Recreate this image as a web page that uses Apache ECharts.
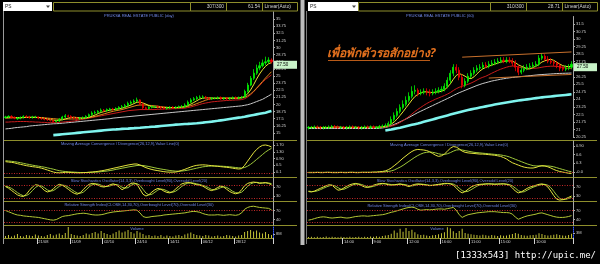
<!DOCTYPE html>
<html><head><meta charset="utf-8">
<script src="https://cdn.jsdelivr.net/npm/echarts@6/dist/echarts.min.js"></script>
<style>html,body{margin:0;padding:0;background:#000;}#c{width:600px;height:264px;}</style>
</head><body><div id="c"></div>
<script>
// ---------------- LEFT PANEL (daily) ----------------
const leftTickIdx = [11, 22, 33, 44, 55, 66, 77];
const leftTickLabels = ['21/08', '11/09', '02/10', '24/10', '14/11', '06/12', '28/12'];
const leftClose = [
 17.8,17.9,17.7,17.6,17.6,17.7,17.9,17.8,17.7,17.8,
 17.8,17.6,17.5,17.4,17.3,17.2,17.0,17.1,17.4,17.8,
 18.0,17.9,17.7,17.6,17.5,17.6,17.7,17.9,18.2,18.5,
 18.6,18.8,19.0,18.9,19.1,19.2,19.1,19.3,19.5,19.6,
 19.8,20.2,20.4,20.6,20.8,20.1,19.4,19.3,19.5,19.6,
 19.6,19.5,19.4,19.3,19.4,19.5,19.4,19.5,19.6,19.6,
 19.9,20.4,20.8,21.0,21.2,21.3,21.3,21.1,21.0,21.1,
 21.1,21.2,21.0,21.1,21.0,21.1,21.2,21.1,21.2,21.3,
 22.3,23.4,24.6,25.5,26.4,26.8,27.3,27.5,27.8,27.5];
const leftOpen = [
 17.7,17.8,17.9,17.7,17.5,17.6,17.7,17.9,17.8,17.7,
 17.8,17.8,17.6,17.5,17.4,17.3,17.2,17.0,17.1,17.4,
 17.8,18.0,17.9,17.7,17.6,17.5,17.6,17.7,17.9,18.2,
 18.5,18.6,18.8,19.0,18.9,19.1,19.2,19.1,19.3,19.5,
 19.6,19.8,20.2,20.4,20.6,20.8,20.1,19.4,19.3,19.5,
 19.6,19.6,19.5,19.4,19.3,19.4,19.5,19.4,19.5,19.6,
 19.6,19.9,20.4,20.8,21.0,21.2,21.3,21.3,21.1,21.0,
 21.1,21.1,21.2,21.0,21.1,21.0,21.1,21.2,21.1,21.2,
 21.3,22.3,23.4,24.6,25.5,26.4,26.8,27.3,27.5,27.8];
const leftHigh = [
 18.0,18.1,18.1,17.9,17.8,17.9,18.1,18.1,18.0,18.0,
 18.0,17.9,17.8,17.7,17.6,17.5,17.4,17.3,17.6,18.0,
 18.3,18.2,18.1,17.9,17.8,17.8,17.9,18.1,18.4,18.8,
 18.9,19.0,19.3,19.2,19.3,19.4,19.4,19.5,19.7,19.9,
 20.1,20.5,20.7,20.9,21.2,20.9,20.3,19.6,19.7,19.8,
 19.8,19.8,19.7,19.6,19.6,19.7,19.7,19.7,19.8,19.9,
 20.2,20.7,21.1,21.3,21.5,21.6,21.6,21.5,21.3,21.3,
 21.3,21.4,21.4,21.3,21.3,21.3,21.4,21.4,21.4,21.5,
 22.6,23.8,25.0,26.2,27.0,27.5,27.9,28.4,28.3,28.1];
const leftLow = [
 17.5,17.6,17.5,17.4,17.3,17.4,17.5,17.6,17.5,17.5,
 17.6,17.4,17.3,17.2,17.1,17.0,16.8,16.8,16.9,17.2,
 17.6,17.7,17.5,17.4,17.3,17.3,17.4,17.5,17.7,18.0,
 18.3,18.4,18.6,18.7,18.7,18.9,18.9,18.9,19.1,19.3,
 19.4,19.6,20.0,20.2,20.4,19.9,19.2,19.1,19.1,19.3,
 19.4,19.3,19.2,19.1,19.1,19.2,19.2,19.2,19.3,19.4,
 19.4,19.7,20.2,20.6,20.8,21.0,21.0,20.9,20.8,20.8,
 20.9,20.9,20.8,20.8,20.8,20.8,20.9,20.9,20.9,21.0,
 21.2,22.1,23.2,24.3,25.2,26.0,26.5,26.9,27.2,27.2];
const leftMaYellow = [
 17.7,17.75,17.75,17.7,17.7,17.65,17.7,17.75,17.75,17.75,
 17.75,17.7,17.65,17.55,17.45,17.35,17.25,17.2,17.2,17.3,
 17.45,17.6,17.7,17.75,17.7,17.65,17.6,17.65,17.75,17.95,
 18.15,18.4,18.6,18.75,18.9,19.0,19.1,19.15,19.25,19.35,
 19.5,19.7,19.9,20.15,20.4,20.4,20.25,20.05,19.8,19.6,
 19.5,19.5,19.5,19.45,19.45,19.45,19.45,19.45,19.5,19.55,
 19.6,19.8,20.05,20.35,20.65,20.95,21.1,21.15,21.15,21.15,
 21.1,21.1,21.1,21.1,21.1,21.1,21.1,21.1,21.15,21.2,
 21.4,21.85,22.55,23.45,24.45,25.35,26.1,26.7,27.15,27.35];
const leftMaOrange = [
 17.6,17.6,17.65,17.65,17.65,17.65,17.7,17.7,17.7,17.7,
 17.7,17.7,17.7,17.65,17.6,17.55,17.5,17.45,17.4,17.4,
 17.4,17.45,17.45,17.45,17.45,17.5,17.55,17.6,17.7,17.8,
 17.9,18.05,18.2,18.35,18.5,18.65,18.8,18.9,19.0,19.1,
 19.25,19.4,19.55,19.7,19.85,19.9,19.9,19.9,19.85,19.8,
 19.75,19.7,19.6,19.55,19.5,19.45,19.45,19.45,19.45,19.5,
 19.55,19.65,19.8,19.95,20.15,20.35,20.55,20.75,20.9,21.0,
 21.05,21.1,21.1,21.1,21.1,21.1,21.1,21.1,21.12,21.15,
 21.25,21.5,21.85,22.3,22.85,23.45,24.05,24.65,25.2,25.75];
const leftMaRed = [
 16.9,16.9,16.95,16.95,17.0,17.0,17.0,17.0,16.95,16.95,
 16.9,16.9,16.85,16.85,16.8,16.8,16.8,16.8,16.85,16.9,
 16.95,17.0,17.05,17.1,17.2,17.3,17.4,17.5,17.6,17.7,
 17.8,17.9,18.0,18.1,18.2,18.3,18.4,18.5,18.6,18.7,
 18.8,18.9,18.95,19.0,19.05,19.1,19.1,19.1,19.1,19.1,
 19.1,19.15,19.15,19.2,19.2,19.2,19.25,19.25,19.3,19.3,
 19.35,19.45,19.55,19.7,19.85,20.0,20.15,20.25,20.35,20.45,
 20.5,20.55,20.6,20.65,20.7,20.72,20.75,20.78,20.8,20.85,
 21.0,21.3,21.7,22.2,22.8,23.3,23.9,24.4,24.8,25.2];
const leftMaWhite = [
 15.7,15.75,15.8,15.9,15.95,16.0,16.05,16.1,16.2,16.25,
 16.3,16.35,16.4,16.45,16.5,16.55,16.6,16.62,16.65,16.7,
 16.75,16.8,16.85,16.9,16.95,17.0,17.05,17.1,17.15,17.2,
 17.25,17.3,17.35,17.4,17.45,17.5,17.6,17.65,17.7,17.75,
 17.8,17.85,17.9,17.95,18.0,18.05,18.1,18.15,18.2,18.25,
 18.3,18.35,18.4,18.45,18.5,18.55,18.6,18.65,18.7,18.75,
 18.8,18.85,18.9,18.95,19.0,19.05,19.1,19.15,19.2,19.25,
 19.3,19.35,19.4,19.45,19.5,19.55,19.6,19.65,19.7,19.75,
 19.85,19.95,20.1,20.3,20.5,20.7,20.9,21.2,21.5,21.8];
const leftMaCyan = [
 null,null,null,null,null,null,null,null,null,null,
 null,null,null,null,null,null,14.6,14.65,14.7,14.75,
 14.8,14.85,14.9,14.95,15.0,15.05,15.1,15.15,15.2,15.25,
 15.3,15.35,15.4,15.45,15.5,15.55,15.6,15.62,15.65,15.7,
 15.72,15.75,15.8,15.83,15.87,15.9,15.95,16.0,16.03,16.07,
 16.1,16.15,16.2,16.25,16.3,16.35,16.4,16.45,16.48,16.52,
 16.55,16.58,16.62,16.66,16.7,16.75,16.8,16.86,16.92,16.98,
 17.05,17.12,17.2,17.28,17.36,17.44,17.52,17.6,17.68,17.76,
 17.85,17.95,18.05,18.15,18.25,18.35,18.45,18.55,18.7,18.85];
const leftMacd = [
 0.72,0.7,0.68,0.65,0.6,0.56,0.52,0.48,0.45,0.42,
 0.4,0.37,0.33,0.28,0.22,0.16,0.1,0.06,0.05,0.06,
 0.08,0.08,0.07,0.06,0.05,0.05,0.06,0.07,0.09,0.1,
 0.12,0.14,0.17,0.2,0.24,0.28,0.32,0.36,0.4,0.44,
 0.48,0.52,0.55,0.58,0.58,0.52,0.44,0.36,0.3,0.25,
 0.21,0.18,0.15,0.12,0.1,0.09,0.09,0.1,0.14,0.2,
 0.26,0.33,0.4,0.46,0.5,0.52,0.53,0.52,0.5,0.48,
 0.46,0.44,0.42,0.4,0.38,0.36,0.33,0.3,0.28,0.3,
 0.5,0.75,1.0,1.25,1.45,1.6,1.7,1.72,1.68,1.6];
const leftSignal = [
 0.78,0.76,0.74,0.72,0.69,0.66,0.62,0.58,0.55,0.51,
 0.48,0.45,0.42,0.39,0.35,0.31,0.27,0.22,0.18,0.15,
 0.13,0.11,0.1,0.09,0.08,0.07,0.07,0.07,0.07,0.08,
 0.09,0.1,0.12,0.14,0.16,0.19,0.22,0.26,0.29,0.33,
 0.36,0.4,0.43,0.46,0.49,0.5,0.49,0.46,0.43,0.39,
 0.35,0.31,0.28,0.25,0.22,0.19,0.17,0.15,0.15,0.16,
 0.18,0.21,0.25,0.29,0.33,0.37,0.41,0.43,0.45,0.46,
 0.46,0.46,0.45,0.44,0.43,0.41,0.39,0.37,0.35,0.34,
 0.37,0.45,0.56,0.7,0.85,1.0,1.15,1.3,1.42,1.52];
const leftMacdTicks = [0.1, 0.5, 0.9, 1.3, 1.7];
const leftMacdTickLabels = ['0.1', '0.5', '0.90', '1.30', '1.70'];
const leftStochK = [
 72,65,55,45,35,30,28,38,55,70,
 80,78,68,55,48,52,62,75,82,78,
 70,60,50,42,38,45,58,72,82,86,
 84,78,72,70,74,80,84,80,70,58,
 66,78,86,88,82,60,38,30,36,48,
 58,64,60,52,46,44,50,62,74,84,
 88,90,88,84,80,78,74,66,58,54,
 60,68,74,70,60,50,44,40,44,58,
 76,86,90,92,90,86,88,90,86,80];
const leftStochD = [
 74,70,64,55,45,37,31,32,40,54,
 68,76,75,67,57,52,54,63,73,78,
 77,69,60,51,43,42,47,58,71,80,
 84,83,78,73,72,75,79,81,78,69,
 65,67,77,84,85,77,60,43,35,38,
 47,57,61,59,53,47,47,52,62,73,
 82,87,89,87,84,81,77,73,66,59,
 57,61,67,71,68,60,51,45,43,47,
 59,73,84,89,91,89,88,88,88,85];
const leftRsi = [
 70,66,62,58,55,54,52,51,50,49,
 48,47,45,43,41,39,38,40,45,50,
 52,53,55,57,59,60,61,60,58,56,
 55,55,56,58,61,63,65,66,67,68,
 69,70,71,72,71,62,50,47,48,50,
 51,52,53,55,56,57,58,59,60,61,
 62,64,66,67,66,64,60,57,55,55,
 55,56,55,54,55,56,55,54,56,62,
 74,80,83,84,82,80,79,78,77,72];
const leftVolume = [
 4,6,3,5,8,4,3,6,5,4,
 7,5,4,3,6,8,5,7,9,6,
 10,22,8,6,5,4,6,9,7,10,
 12,9,14,10,8,6,9,12,15,11,
 13,16,12,9,14,11,8,5,6,4,
 5,4,6,3,5,4,3,5,6,4,
 7,9,11,8,6,5,4,6,5,3,
 4,5,3,4,6,5,4,3,5,6,
 12,14,16,13,15,11,9,12,8,6];
const leftVolTicks = [8];
const leftVolTickLabels = ['8M'];
const leftLast = 27.5;

// ---------------- RIGHT PANEL (60 min) ----------------
const rightTickIdx = [12, 22, 34, 45, 55, 65, 77];
const rightTickLabels = ['14:00', '9:00', '12:00', '16:00', '11:00', '15:00', '10:00'];
const rightClose = [
 21.2,21.2,21.25,21.2,21.15,21.2,21.2,21.25,21.3,21.25,
 21.2,21.2,21.15,21.2,21.25,21.2,21.2,21.15,21.2,21.25,
 21.2,21.25,21.2,21.2,21.3,21.35,21.4,21.6,22.0,22.4,
 22.8,23.2,23.5,23.9,24.3,24.8,24.9,24.6,24.7,24.8,
 24.7,24.6,24.7,24.8,24.9,25.0,25.3,25.9,26.6,27.2,
 26.9,26.2,25.4,25.8,26.3,26.6,26.9,27.1,27.2,27.4,
 27.3,27.5,27.6,27.7,27.8,27.9,27.8,27.9,27.8,27.6,
 27.2,26.7,26.9,27.1,27.2,27.3,27.4,27.5,28.1,28.3,
 28.0,27.8,27.7,27.6,27.4,27.1,27.0,27.1,27.2,27.5];
const rightOpen = [
 21.15,21.2,21.2,21.25,21.2,21.15,21.2,21.2,21.25,21.3,
 21.25,21.2,21.2,21.15,21.2,21.25,21.2,21.2,21.15,21.2,
 21.25,21.2,21.25,21.2,21.2,21.3,21.35,21.4,21.6,22.0,
 22.4,22.8,23.2,23.5,23.9,24.3,24.8,24.9,24.6,24.7,
 24.8,24.7,24.6,24.7,24.8,24.9,25.0,25.3,25.9,26.6,
 27.2,26.9,26.2,25.4,25.8,26.3,26.6,26.9,27.1,27.2,
 27.4,27.3,27.5,27.6,27.7,27.8,27.9,27.8,27.9,27.8,
 27.6,27.2,26.7,26.9,27.1,27.2,27.3,27.4,27.5,28.1,
 28.3,28.0,27.8,27.7,27.6,27.4,27.1,27.0,27.1,27.2];
const rightHigh = [
 21.35,21.35,21.4,21.4,21.35,21.35,21.35,21.4,21.45,21.45,
 21.4,21.35,21.35,21.35,21.4,21.4,21.35,21.35,21.35,21.4,
 21.4,21.4,21.4,21.35,21.45,21.5,21.6,21.8,22.3,22.7,
 23.1,23.5,23.9,24.3,24.7,25.3,25.4,25.1,25.0,25.1,
 25.1,25.0,25.0,25.1,25.2,25.3,25.6,26.2,26.9,27.5,
 27.5,27.2,26.5,26.1,26.6,26.9,27.2,27.4,27.5,27.7,
 27.7,27.8,27.9,28.0,28.1,28.2,28.2,28.2,28.2,28.1,
 27.9,27.4,27.2,27.4,27.5,27.6,27.7,27.8,28.4,28.6,
 28.5,28.3,28.1,27.9,27.8,27.6,27.3,27.4,27.5,27.8];
const rightLow = [
 21.0,21.05,21.05,21.05,21.0,21.0,21.05,21.05,21.1,21.1,
 21.05,21.05,21.0,21.0,21.05,21.05,21.05,21.0,21.0,21.05,
 21.05,21.05,21.05,21.05,21.05,21.15,21.2,21.25,21.45,21.8,
 22.2,22.6,23.0,23.3,23.7,24.1,24.5,24.3,24.4,24.5,
 24.4,24.3,24.4,24.5,24.6,24.7,24.8,25.1,25.6,26.3,
 26.6,25.9,25.1,25.2,25.6,26.1,26.4,26.7,26.9,27.0,
 27.1,27.1,27.3,27.4,27.5,27.6,27.6,27.6,27.6,27.3,
 26.8,26.4,26.5,26.7,26.9,27.0,27.1,27.2,27.3,27.9,
 27.8,27.6,27.5,27.3,27.1,26.8,26.8,26.8,26.9,27.0];
const rightMaYellow = [
 21.2,21.2,21.2,21.22,21.2,21.2,21.2,21.2,21.22,21.25,
 21.24,21.22,21.2,21.2,21.2,21.22,21.22,21.2,21.2,21.2,
 21.22,21.22,21.22,21.22,21.23,21.26,21.3,21.38,21.53,21.75,
 22.04,22.4,22.76,23.16,23.54,23.94,24.28,24.5,24.64,24.76,
 24.74,24.7,24.68,24.72,24.74,24.8,24.94,25.2,25.54,26.0,
 26.38,26.56,26.46,26.3,26.12,26.06,26.24,26.54,26.82,27.04,
 27.18,27.3,27.4,27.5,27.6,27.7,27.76,27.82,27.84,27.8,
 27.66,27.44,27.3,27.18,27.02,27.04,27.18,27.3,27.5,27.72,
 27.84,27.94,27.98,27.88,27.7,27.52,27.36,27.28,27.26,27.28];
const rightMaRed = [
 21.2,21.2,21.2,21.2,21.2,21.2,21.2,21.2,21.21,21.21,
 21.21,21.21,21.21,21.21,21.21,21.21,21.21,21.21,21.21,21.21,
 21.21,21.21,21.21,21.21,21.22,21.23,21.25,21.28,21.33,21.42,
 21.54,21.7,21.88,22.08,22.3,22.54,22.78,23.0,23.2,23.4,
 23.58,23.74,23.88,24.02,24.14,24.26,24.38,24.52,24.68,24.88,
 25.06,25.2,25.3,25.4,25.5,25.62,25.76,25.92,26.08,26.2,
 26.3,26.45,26.6,26.74,26.88,27.0,27.1,27.2,27.28,27.32,
 27.3,27.22,27.16,27.12,27.1,27.08,27.08,27.1,27.14,27.2,
 27.25,27.28,27.3,27.3,27.28,27.24,27.18,27.12,27.08,27.06];
const rightMaWhite = [
 21.1,21.1,21.1,21.1,21.1,21.1,21.1,21.1,21.1,21.1,
 21.1,21.1,21.1,21.1,21.1,21.1,21.1,21.1,21.1,21.1,
 21.1,21.1,21.1,21.1,21.12,21.15,21.2,21.28,21.38,21.5,
 21.62,21.76,21.9,22.05,22.2,22.36,22.52,22.68,22.82,22.96,
 23.1,23.24,23.38,23.52,23.66,23.8,23.94,24.08,24.22,24.38,
 24.52,24.66,24.78,24.9,25.02,25.14,25.26,25.38,25.48,25.58,
 25.66,25.74,25.82,25.88,25.94,26.0,26.05,26.1,26.14,26.18,
 26.21,26.24,26.27,26.3,26.33,26.36,26.39,26.42,26.45,26.47,
 26.49,26.51,26.53,26.55,26.57,26.58,26.59,26.6,26.61,26.62];
const rightMaCyan = [
 null,null,null,null,null,null,null,null,null,null,
 null,null,null,null,null,null,null,null,null,null,
 null,null,null,null,null,null,20.9,20.95,21.0,21.06,
 21.12,21.18,21.25,21.32,21.39,21.46,21.53,21.6,21.68,21.76,
 21.84,21.92,22.0,22.08,22.16,22.24,22.32,22.4,22.48,22.56,
 22.64,22.72,22.8,22.87,22.94,23.0,23.06,23.12,23.18,23.24,
 23.3,23.36,23.42,23.48,23.54,23.59,23.64,23.69,23.74,23.79,
 23.84,23.88,23.92,23.96,24.0,24.04,24.08,24.12,24.16,24.2,
 24.23,24.26,24.29,24.32,24.35,24.38,24.41,24.44,24.47,24.5];
const rightTrendUpper = [[52, 28.2], [89, 28.72]];
const rightTrendLower = [[61, 26.12], [89, 26.48]];
const rightMacd = [
 -0.02,-0.02,-0.02,-0.01,-0.02,-0.02,-0.01,-0.01,-0.02,-0.02,
 -0.02,-0.01,-0.02,-0.02,-0.01,-0.01,-0.02,-0.02,-0.01,-0.01,
 -0.01,-0.01,0.0,0.0,0.01,0.02,0.04,0.08,0.14,0.22,
 0.3,0.39,0.48,0.56,0.64,0.71,0.76,0.78,0.77,0.76,
 0.74,0.7,0.64,0.58,0.54,0.56,0.62,0.72,0.82,0.88,
 0.86,0.8,0.72,0.68,0.66,0.65,0.64,0.63,0.62,0.62,
 0.61,0.6,0.59,0.58,0.56,0.54,0.5,0.45,0.38,0.32,
 0.28,0.24,0.2,0.17,0.15,0.14,0.14,0.16,0.2,0.22,
 0.21,0.18,0.14,0.09,0.05,0.02,0.0,-0.02,-0.04,-0.05];
const rightSignal = [
 -0.01,-0.01,-0.01,-0.01,-0.01,-0.01,-0.01,-0.01,-0.01,-0.01,
 -0.01,-0.01,-0.01,-0.01,-0.01,-0.01,-0.01,-0.01,-0.01,-0.01,
 -0.01,-0.01,-0.01,-0.01,0.0,0.0,0.01,0.02,0.04,0.07,
 0.12,0.17,0.23,0.3,0.37,0.44,0.51,0.57,0.62,0.66,
 0.68,0.69,0.68,0.66,0.63,0.61,0.61,0.63,0.67,0.72,
 0.76,0.77,0.76,0.74,0.72,0.7,0.68,0.67,0.66,0.65,
 0.64,0.63,0.62,0.61,0.6,0.59,0.57,0.55,0.52,0.48,
 0.44,0.4,0.36,0.32,0.28,0.25,0.22,0.21,0.21,0.21,
 0.21,0.21,0.2,0.18,0.15,0.12,0.09,0.06,0.03,0.01];
const rightMacdTicks = [0, 0.3, 0.6, 0.9];
const rightMacdTickLabels = ['-0.0', '0.3', '0.6', '0.90'];
const rightStochK = [
 50,48,52,58,64,70,76,80,78,66,
 56,58,66,74,80,84,86,82,76,70,
 68,72,78,82,85,86,84,80,78,80,
 82,84,80,76,72,78,82,84,82,80,
 78,76,78,80,82,84,86,86,84,78,
 66,52,44,50,60,70,76,80,82,83,
 84,84,83,82,83,84,84,82,78,66,
 52,44,48,56,64,70,74,78,82,84,
 80,70,52,32,16,12,14,18,24,30];
const rightStochD = [
 52,50,50,53,58,64,70,75,78,75,
 67,60,60,66,73,79,83,84,81,76,
 71,70,73,77,82,84,85,83,81,79,
 80,82,82,80,76,75,77,81,83,82,
 80,78,77,78,80,82,84,85,85,83,
 76,65,54,49,51,58,66,74,79,81,
 83,84,84,83,83,83,84,83,81,75,
 65,54,48,49,56,63,69,74,78,81,
 82,78,67,51,33,20,14,15,19,24];
const rightRsi = [
 38,40,43,46,48,49,48,46,45,46,
 47,48,46,45,46,48,50,51,52,52,
 51,52,53,54,55,56,58,61,64,66,
 69,72,75,78,80,81,79,74,71,72,
 73,72,73,74,75,75,74,76,78,80,
 71,56,47,52,56,58,60,62,63,64,
 65,66,66,66,65,64,63,63,62,58,
 48,41,45,49,52,54,56,58,61,62,
 59,56,53,50,48,47,47,48,50,53];
const rightVolume = [
 0.6,0.8,0.5,0.7,0.4,0.6,0.9,0.5,0.7,0.6,
 0.5,0.8,0.6,0.4,0.7,0.5,0.6,0.8,0.5,0.7,
 0.6,0.9,0.7,1.0,0.8,1.2,1.5,1.8,2.5,4.5,
 3.2,5.5,3.8,6.0,4.2,5.0,3.5,2.2,1.8,2.0,
 1.5,1.2,1.6,1.8,2.2,2.8,3.5,6.5,5.8,4.0,
 3.0,4.2,5.5,3.0,2.5,2.2,2.0,1.8,1.5,2.0,
 1.6,1.4,1.8,1.5,1.2,1.6,1.3,1.5,2.0,2.4,
 3.0,2.6,1.8,1.5,1.4,1.6,1.8,2.0,2.8,2.4,
 1.8,1.5,1.6,2.0,2.2,1.8,1.5,1.4,1.8,2.6];
const rightVolTicks = [3];
const rightVolTickLabels = ['3M'];
const rightLast = 27.5;

// ---------------- build ----------------
const FONT = 'Liberation Sans';
const OLIVE = '#8e8e2c';
const LBL = '#d2d2d2';
const TITLE = '#6e86e6';
const RED_DOT = '#c02828';

const panels = [
  {x: 4, w: 269, pTop: 12, pH: 128, pMin: 13.75, pMax: 36.25, pInt: 1.25, showMin: false,
   open: leftOpen, close: leftClose, high: leftHigh, low: leftLow,
   mas: [[leftMaCyan, '#7ff4ee', 2.6], [leftMaWhite, '#c8c8c8', 1], [leftMaRed, '#c81c1c', 1], [leftMaOrange, '#e08a1c', 1], [leftMaYellow, '#e6e630', 1]],
   trends: [],
   macd: leftMacd, sig: leftSignal, mMin: -0.2, mMax: 1.96, mTicks: leftMacdTicks, mLabels: leftMacdTickLabels,
   k: leftStochK, d: leftStochD, rsi: leftRsi, vol: leftVolume, vMax: 24, vTicks: leftVolTicks, vLabels: leftVolTickLabels,
   tIdx: leftTickIdx, tLab: leftTickLabels, last: leftLast},
  {x: 307, w: 266, pTop: 16.5, pH: 120.5, pMin: 20.25, pMax: 32.25, pInt: 0.75, showMin: true,
   open: rightOpen, close: rightClose, high: rightHigh, low: rightLow,
   mas: [[rightMaCyan, '#7ff4ee', 2.6], [rightMaWhite, '#c8c8c8', 1], [rightMaRed, '#c81c1c', 1], [rightMaYellow, '#e6e630', 1]],
   trends: [rightTrendUpper, rightTrendLower],
   macd: rightMacd, sig: rightSignal, mMin: -0.17, mMax: 1.07, mTicks: rightMacdTicks, mLabels: rightMacdTickLabels,
   k: rightStochK, d: rightStochD, rsi: rightRsi, vol: rightVolume, vMax: 7.2, vTicks: rightVolTicks, vLabels: rightVolTickLabels,
   tIdx: rightTickIdx, tLab: rightTickLabels, last: rightLast}
];

const grid = [], xAxis = [], yAxis = [], series = [];
const lblStyle = {fontSize: 4, color: LBL, fontFamily: FONT};

function addAxes(p, top, height, yCfg, showX) {
  const gi = grid.length;
  grid.push({left: p.x, top: top, width: p.w, height: height, containLabel: false});
  const cats = p.close.map((_, i) => String(i));
  xAxis.push({
    gridIndex: gi, type: 'category', data: cats, boundaryGap: true, show: true,
    axisLine: {show: showX, lineStyle: {color: OLIVE, width: 1}},
    axisTick: {show: showX, length: 6, interval: (i) => p.tIdx.includes(i), lineStyle: {color: LBL}},
    axisLabel: {show: showX, interval: (i) => p.tIdx.includes(i), formatter: (v, i) => p.tLab[p.tIdx.indexOf(i)] || '',
      align: 'left', margin: 1.5, verticalAlign: 'top', ...lblStyle},
    splitLine: {show: false}
  });
  yAxis.push(Object.assign({
    gridIndex: gi, type: 'value', position: 'right', scale: false,
    axisLine: {show: true, onZero: false, lineStyle: {color: '#a8a8a8', width: 1}},
    axisTick: {show: true, length: 2, lineStyle: {color: '#a8a8a8'}},
    splitLine: {show: false}
  }, yCfg));
  return gi;
}
function line(gi, data, color, width, extra) {
  series.push(Object.assign({type: 'line', xAxisIndex: gi, yAxisIndex: gi, data: data, symbol: 'none',
    lineStyle: {color: color, width: width}, silent: true, animation: false, connectNulls: false}, extra || {}));
}
function dotted(vals) {
  return {silent: true, symbol: 'none', label: {show: false},
    lineStyle: {color: RED_DOT, type: [1, 1.5], width: 1}, data: vals.map(v => ({yAxis: v}))};
}

panels.forEach((p) => {
  // price
  const g0 = addAxes(p, p.pTop, p.pH, {min: p.pMin, max: p.pMax, interval: p.pInt,
    axisLabel: {showMinLabel: p.showMin, showMaxLabel: false, margin: 3, ...lblStyle}}, false);
  p.mas.forEach(m => line(g0, m[0], m[1], m[2]));
  const ohlc = p.close.map((c, i) => [p.open[i], c, p.low[i], p.high[i]]);
  const ml = {silent: true, symbol: 'none', animation: false, data: [], lineStyle: {width: 1, type: 'solid'}, label: {show: false}};
  p.trends.forEach(t => ml.data.push([{coord: t[0], lineStyle: {color: '#c8702c', width: 1, type: 'solid'}, label: {show: false}}, {coord: t[1]}]));
  series.push({type: 'candlestick', xAxisIndex: g0, yAxisIndex: g0, data: ohlc, barWidth: 1.6, silent: true, animation: false,
    itemStyle: {color: '#00f000', color0: '#f00000', borderColor: '#00f000', borderColor0: '#f00000', borderWidth: 0.8},
    markLine: ml, z: 3});
  // last-price box
  series.push({type: 'line', xAxisIndex: g0, yAxisIndex: g0, data: [], silent: true, animation: false, z: 5,
    markLine: {silent: true, symbol: 'none', animation: false,
      lineStyle: {color: 'rgba(0,0,0,0)', width: 1, type: 'solid'},
      data: [{yAxis: p.last}],
      label: {show: true, position: 'end', distance: 1, offset: [0, 3], formatter: p.last.toFixed(2),
        backgroundColor: '#c8f3c8', color: '#000', fontSize: 4.5, fontFamily: FONT,
        width: 19, height: 5, lineHeight: 5, padding: [1.5, 1, 1.5, 3], align: 'left', verticalAlign: 'middle'}}});
  // macd
  const g1 = addAxes(p, 141, 36, {min: p.mMin, max: p.mMax,
    axisLabel: {customValues: p.mTicks, formatter: (v) => p.mLabels[p.mTicks.indexOf(v)], margin: 3, ...lblStyle},
    axisTick: {show: true, length: 2, customValues: p.mTicks, lineStyle: {color: '#a8a8a8'}}}, false);
  line(g1, p.sig, '#9ec83a', 1, {markLine: dotted([0])});
  line(g1, p.macd, '#e4e43c', 1);
  // stoch
  const g2 = addAxes(p, 178, 23, {min: 8, max: 110,
    axisLabel: {customValues: [30, 70], margin: 3, ...lblStyle},
    axisTick: {show: true, length: 2, customValues: [30, 70], lineStyle: {color: '#a8a8a8'}}}, false);
  line(g2, p.d, '#9ec83a', 1, {markLine: dotted([80, 20])});
  line(g2, p.k, '#e4e43c', 1);
  // rsi
  const g3 = addAxes(p, 202, 23, {min: 22, max: 98,
    axisLabel: {customValues: [40, 70], margin: 3, ...lblStyle},
    axisTick: {show: true, length: 2, customValues: [40, 70], lineStyle: {color: '#a8a8a8'}}}, false);
  line(g3, p.rsi, '#b4c834', 1, {markLine: dotted([70, 30])});
  // volume
  const g4 = addAxes(p, 226, 12, {min: 0, max: p.vMax,
    axisLine: {show: true, lineStyle: {color: '#3a5cff', type: [1, 1], width: 1}},
    axisLabel: {customValues: p.vTicks, formatter: (v) => p.vLabels[p.vTicks.indexOf(v)], margin: 3, ...lblStyle},
    axisTick: {show: true, length: 2, customValues: p.vTicks, lineStyle: {color: '#a8a8a8'}}}, true);
  series.push({type: 'bar', xAxisIndex: g4, yAxisIndex: g4, data: p.vol, barWidth: 1, silent: true, animation: false,
    itemStyle: {color: '#c4c436'}});
});

// decorations
const gfx = [];
function hline(x1, x2, y, color) { gfx.push({type: 'line', silent: true, shape: {x1, y1: y, x2, y2: y}, style: {stroke: color, lineWidth: 1}}); }
function txt(x, y, s, opt) { gfx.push({type: 'text', silent: true, x, y, style: Object.assign({text: s, fill: LBL, fontSize: 4.8, fontFamily: FONT, textVerticalAlign: 'middle'}, opt || {})}); }
function rect(x, y, w, h, st) { gfx.push({type: 'rect', silent: true, shape: {x, y, width: w, height: h}, style: st}); }

// left header
rect(3, 2, 49, 9, {fill: '#ffffff'});
txt(5, 6.7, 'PS', {fill: '#222', fontSize: 4.8});
gfx.push({type: 'polygon', silent: true, shape: {points: [[46, 5.5], [50, 5.5], [48, 8]]}, style: {fill: '#444'}});
[[53, 137], [190, 36], [226, 36], [262, 35]].forEach(r => rect(r[0] + 0.5, 2.5, r[1], 8.5, {fill: 'none', stroke: OLIVE, lineWidth: 1}));
txt(224, 6.8, '307/300', {textAlign: 'right'});
txt(260, 6.8, '61.54', {textAlign: 'right'});
txt(264.5, 6.8, 'Linear(Auto)', {});
// right header
rect(308, 2, 50, 9, {fill: '#ffffff'});
txt(310, 6.7, 'PS', {fill: '#222', fontSize: 4.8});
gfx.push({type: 'polygon', silent: true, shape: {points: [[352, 5.5], [356, 5.5], [354, 8]]}, style: {fill: '#444'}});
[[358, 132], [490, 36], [526, 36], [562, 35]].forEach(r => rect(r[0] + 0.5, 2.5, r[1], 8.5, {fill: 'none', stroke: OLIVE, lineWidth: 1}));
txt(524, 6.8, '310/300', {textAlign: 'right'});
txt(560, 6.8, '28.71', {textAlign: 'right'});
txt(564.5, 6.8, 'Linear(Auto)', {});
// borders
gfx.push({type: 'line', silent: true, shape: {x1: 3.5, y1: 11, x2: 3.5, y2: 244}, style: {stroke: '#9a9a9a', lineWidth: 1}});
rect(300.5, 0, 4, 245, {fill: '#bcbcbc'});
gfx.push({type: 'line', silent: true, shape: {x1: 306.5, y1: 11, x2: 306.5, y2: 244}, style: {stroke: '#7a7a7a', lineWidth: 1}});
// pane separators
[140.5, 177.5, 201.5, 225.5].forEach(y => { hline(4, 297, y, OLIVE); hline(307, 597, y, OLIVE); });
// titles
const tt = {fill: TITLE, fontSize: 4, textAlign: 'center'};
txt(139, 15.5, 'PRUKSA REAL ESTATE PUBLIC (day)', tt);
txt(440, 16, 'PRUKSA REAL ESTATE PUBLIC (60)', tt);
txt(120, 143.8, 'Moving Average Convergence / Divergence(26,12,9),Value Line(0)', tt);
txt(449, 144.8, 'Moving Average Convergence / Divergence(26,12,9),Value Line(0)', tt);
txt(139, 180.6, 'Slow Stochastics Oscillator(14,3,3),Overbought Level(80),Oversold Level(20)', tt);
txt(445, 181, 'Slow Stochastics Oscillator(14,3,3),Overbought Level(80),Oversold Level(20)', tt);
txt(139, 205, 'Relative Strength Index(CLOSE,14,30,70),Overbought Level(70),Oversold Level(30)', tt);
txt(442, 205.6, 'Relative Strength Index(CLOSE,14,30,70),Overbought Level(70),Oversold Level(30)', tt);
txt(137, 228.6, 'Volume', tt);
txt(437, 229, 'Volume', tt);
// annotation
txt(327, 53.5, 'เพื่อพักตัวรอสักอย่าง?', {fill: '#e2701e', fontSize: 12, fontStyle: 'italic', fontWeight: 'bold', fontFamily: '"Noto Sans", "DejaVu Sans", sans-serif'});
hline(328, 430, 60.5, '#b85a18');
// watermark
txt(596, 255.5, '[1333x543] http://upic.me/', {fill: '#ffffff', fontSize: 9, fontFamily: '"DejaVu Sans Mono", "Liberation Mono", monospace', textAlign: 'right'});

const chart = echarts.init(document.getElementById('c'), null, {renderer: 'canvas'});
chart.setOption({backgroundColor: '#000', animation: false, grid, xAxis, yAxis, series, graphic: gfx});
</script></body></html>
